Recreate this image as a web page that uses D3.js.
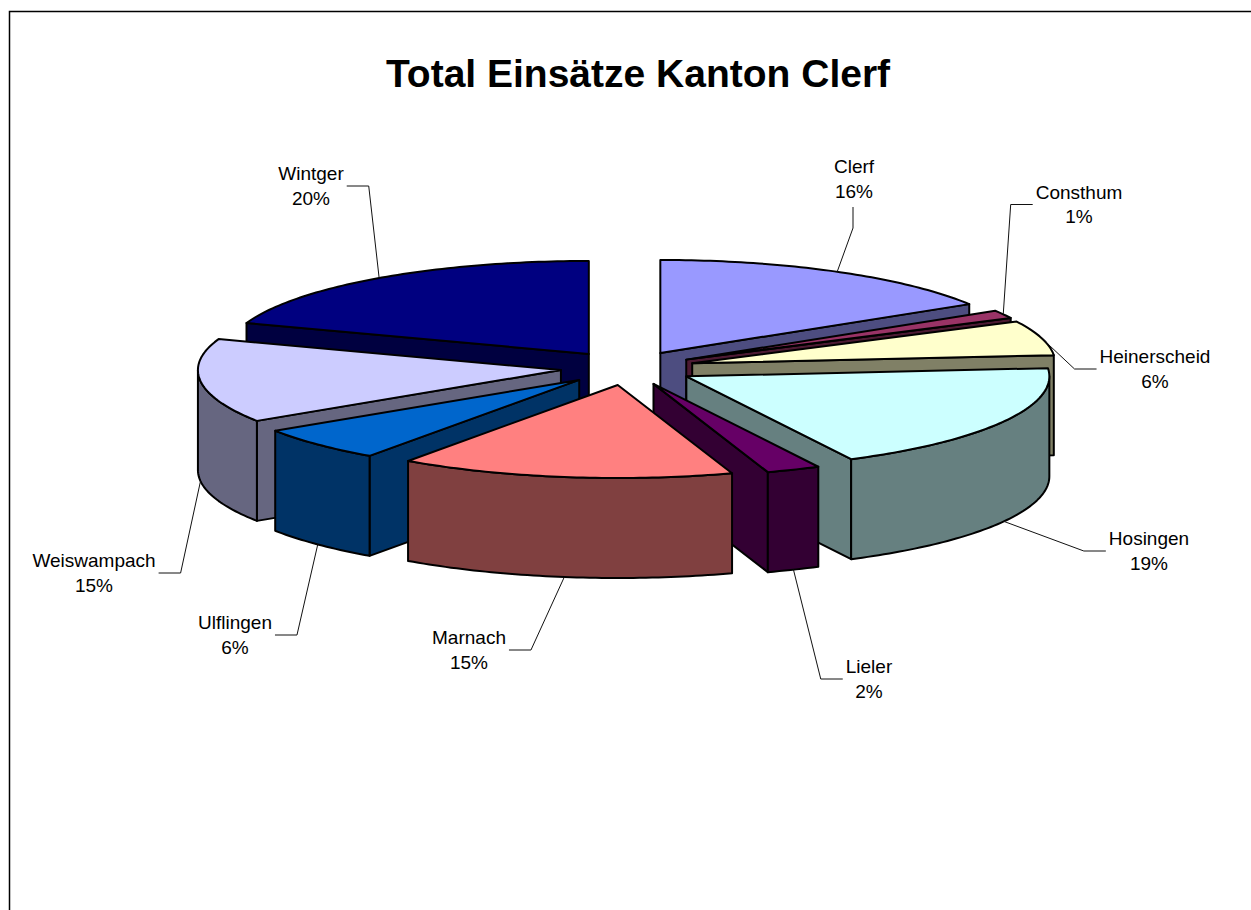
<!DOCTYPE html>
<html>
<head>
<meta charset="utf-8">
<script src="https://cdn.jsdelivr.net/npm/d3@7"></script>
<style>
  html, body { margin: 0; padding: 0; background: #fff; }
  svg { display: block; }
</style>
</head>
<body>
<svg id="chart" width="1251" height="910"></svg>
<script>
const names = ['Clerf', 'Consthum', 'Heinerscheid', 'Hosingen', 'Lieler', 'Marnach', 'Ulflingen', 'Weiswampach', 'Wintger'];
const values = [16.2, 1.4, 6.0, 18.9, 2.4, 14.9, 6.0, 14.6, 19.6];
const colors = ['#9999FF', '#993366', '#FFFFCC', '#CCFFFF', '#660066', '#FF8080', '#0066CC', '#CCCCFF', '#000080'];

// where the data labels sit (text block centre)
const labelPos = [[854, 179], [1079, 204.5], [1155, 369], [1149, 551], [869, 679], [469, 650], [235, 635], [94, 573], [311, 186]];

const title = 'Total Einsätze Kanton Clerf';

const cx = 627.6, cy = 368;   // pie centre (top face)
const RX = 363, RY = 93;      // ellipse radii
const H = 100;                // thickness
const explode = 0.185;
const font = '"Liberation Sans", Arial, Helvetica, sans-serif';

const svg = d3.select('#chart');

// frame
svg.append('rect')
  .attr('x', 9.5).attr('y', 11.5)
  .attr('width', 1400).attr('height', 1100)
  .attr('fill', 'none')
  .attr('stroke', '#000')
  .attr('stroke-width', 1.5);

svg.append('text')
  .attr('x', 638).attr('y', 87)
  .attr('text-anchor', 'middle')
  .attr('font-family', font)
  .attr('font-weight', 'bold')
  .attr('font-size', 39)
  .text(title);

const total = d3.sum(values);
const pct = d3.format('.0%');
const arcs = d3.pie().sort(null).value(d => d)(values);

const line = d3.line();

function proj(s, r, a, z) {
  return [cx + s.ox + r * RX * Math.sin(a), cy + s.oy - r * RY * Math.cos(a) + z];
}

function arcPts(s, a0, a1, z) {
  const n = Math.max(2, Math.ceil(Math.abs(a1 - a0) / (Math.PI / 180)));
  return d3.range(n + 1).map(i => proj(s, 1, a0 + (a1 - a0) * i / n, z));
}

const slices = arcs.map((a, i) => {
  const mid = (a.startAngle + a.endAngle) / 2;
  return {
    i, name: names[i], value: values[i],
    a0: a.startAngle, a1: a.endAngle, mid,
    ox: explode * RX * Math.sin(mid),
    oy: -explode * RY * Math.cos(mid),
    top: colors[i],
    side: (c => d3.rgb(c.r / 2, c.g / 2, c.b / 2).formatHex())(d3.rgb(colors[i]))
  };
});

// back slices first
const order = slices.slice().sort((a, b) => (-Math.cos(a.mid)) - (-Math.cos(b.mid)));

const pieG = svg.append('g');

for (const s of order) {
  const g = pieG.append('g');
  const faces = [];

  // radial cut faces
  if (Math.sin(s.a0) < -1e-6) {
    faces.push([proj(s, 0, s.a0, 0), proj(s, 1, s.a0, 0), proj(s, 1, s.a0, H), proj(s, 0, s.a0, H)]);
  }
  if (Math.sin(s.a1) > 1e-6) {
    faces.push([proj(s, 0, s.a1, 0), proj(s, 1, s.a1, 0), proj(s, 1, s.a1, H), proj(s, 0, s.a1, H)]);
  }
  // outer wall, front half only
  const lo = Math.max(s.a0, Math.PI / 2), hi = Math.min(s.a1, 3 * Math.PI / 2);
  if (hi > lo) {
    faces.push(arcPts(s, lo, hi, 0).concat(arcPts(s, hi, lo, H)));
  }

  for (const f of faces) {
    g.append('path')
      .attr('d', line(f) + 'Z')
      .attr('fill', s.side)
      .attr('stroke', '#000')
      .attr('stroke-width', 2)
      .attr('stroke-linejoin', 'round');
  }

  const topPts = [proj(s, 0, 0, 0)].concat(arcPts(s, s.a0, s.a1, 0));
  g.append('path')
    .attr('d', line(topPts) + 'Z')
    .attr('fill', s.top)
    .attr('stroke', '#000')
    .attr('stroke-width', 2)
    .attr('stroke-linejoin', 'round');
}

// labels + leader lines
const labG = svg.append('g');
for (const s of slices) {
  const [lx, ly] = labelPos[s.i];
  const t = labG.append('text')
    .attr('font-family', font)
    .attr('font-size', 19)
    .attr('text-anchor', 'middle')
    .attr('fill', '#000');
  t.append('tspan').attr('x', lx).attr('y', ly - 6).text(s.name);
  t.append('tspan').attr('x', lx).attr('y', ly + 18.5).text(pct(s.value / total));
  const hw = d3.max(t.selectAll('tspan').nodes(), n => n.getComputedTextLength()) / 2;

  const front = Math.cos(s.mid) < 0;
  const rim = proj(s, 1, s.mid, front ? H : 0);

  let anchor, elbow;
  if (Math.abs(lx - rim[0]) < hw) {
    anchor = [lx - 1, ly + 28];
    elbow = [lx - 1, ly + 49];
  } else if (lx > rim[0]) {
    anchor = [lx - hw - 3, ly];
    elbow = [anchor[0] - 22, ly];
  } else {
    anchor = [lx + hw + 3, ly];
    elbow = [anchor[0] + 22, ly];
  }

  labG.append('path')
    .attr('d', line([anchor, elbow, rim]))
    .attr('fill', 'none')
    .attr('stroke', '#111')
    .attr('stroke-width', 1);
}
</script>
</body>
</html>
